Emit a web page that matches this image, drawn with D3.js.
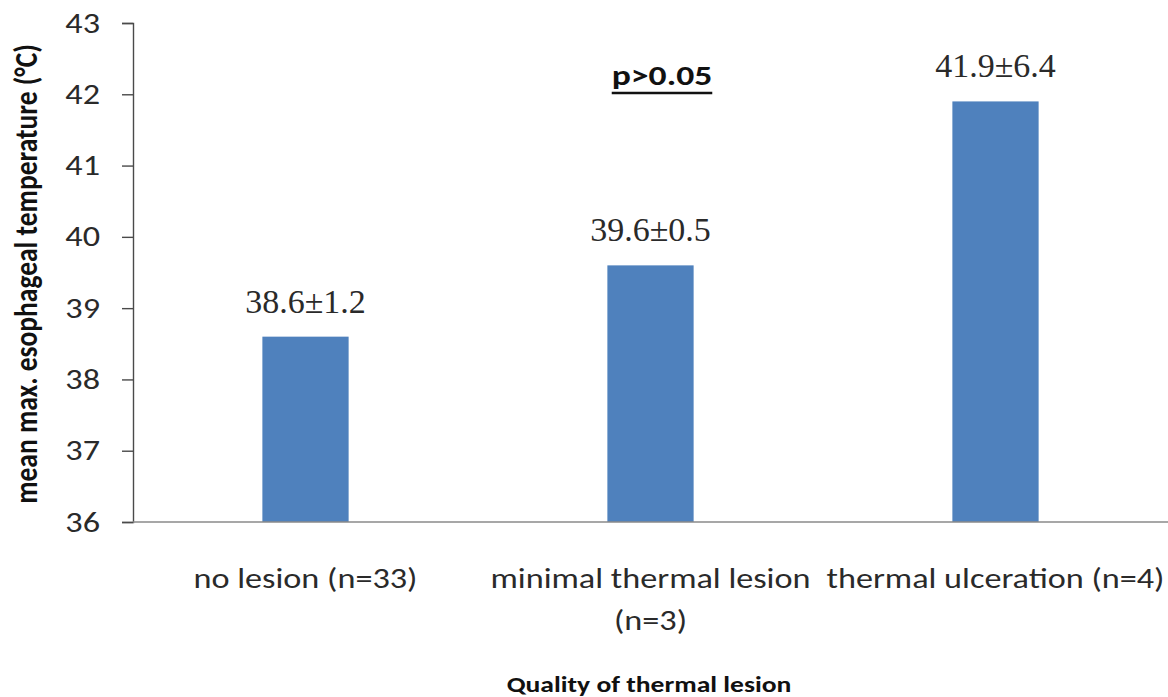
<!DOCTYPE html>
<html>
<head>
<meta charset="utf-8">
<script src="https://cdn.jsdelivr.net/npm/d3@7"></script>
<style>
  html, body { margin: 0; padding: 0; background: #fff; }
  svg { display: block; }
</style>
</head>
<body>
<svg id="chart" width="1168" height="697"></svg>
<script>
// Lesion groups and their mean max. esophageal temperatures
const categories = ["no lesion (n=33)", "minimal thermal lesion (n=3)", "thermal ulceration (n=4)"];
const categoryLines = [["no lesion (n=33)"], ["minimal thermal lesion", "(n=3)"], ["thermal ulceration (n=4)"]];
const means = [38.6, 39.6, 41.9];
const sds = [1.2, 0.5, 6.4];
const yTicks = [36, 37, 38, 39, 40, 41, 42, 43];

const svg = d3.select("#chart");
const plotLeft = 133, plotRight = 1168, plotTop = 23, plotBottom = 522;
const stretch = 1.2; // wide sans lettering

const x = d3.scaleBand().domain(categories).range([plotLeft, plotRight]).paddingInner(0).paddingOuter(0);
const barW = x.bandwidth() * 0.25;
const y = d3.scaleLinear().domain([36, 43]).range([plotBottom, plotTop]);

const uiFont = "Carlito, Calibri, 'Open Sans', sans-serif";
const textColor = "#2a2a2a";

// bars
svg.append("g").selectAll("rect").data(categories).join("rect")
  .attr("x", d => x(d) + (x.bandwidth() - barW) / 2)
  .attr("width", barW)
  .attr("y", (d, i) => y(means[i]))
  .attr("height", (d, i) => y(36) - y(means[i]))
  .attr("fill", "#4F81BD");

// y axis
const yAxis = d3.axisLeft(y).tickValues(yTicks).tickSize(11).tickPadding(16.5).tickFormat(d3.format("d"));
const gy = svg.append("g").attr("transform", `translate(${plotLeft},0)`).call(yAxis);
gy.select(".domain").attr("stroke", "#4a4a4a").attr("stroke-width", 1.4);
gy.selectAll(".tick line").attr("stroke", "#4a4a4a").attr("stroke-width", 1.4);
gy.selectAll(".tick text")
  .attr("font-family", uiFont).attr("font-size", 28.5).attr("fill", textColor)
  .attr("transform", `scale(${stretch},1)`);

// x axis baseline
svg.append("line")
  .attr("x1", plotLeft).attr("x2", plotRight)
  .attr("y1", y(36)).attr("y2", y(36))
  .attr("stroke", "#8a8a8a").attr("stroke-width", 1.5);

// category labels
const catG = svg.append("g");
categories.forEach((c, i) => {
  const cx = x(c) + x.bandwidth() / 2;
  const t = catG.append("text")
    .attr("transform", `translate(${cx},588) scale(${stretch},1)`)
    .attr("text-anchor", "middle")
    .attr("font-family", uiFont)
    .attr("font-size", 28.5)
    .attr("fill", textColor);
  categoryLines[i].forEach((line, j) => {
    t.append("tspan").attr("x", 0).attr("dy", j === 0 ? 0 : 42).text(line);
  });
});

// value labels (mean ± SD)
svg.append("g").selectAll("text").data(categories).join("text")
  .attr("x", d => x(d) + x.bandwidth() / 2)
  .attr("y", (d, i) => y(means[i]) - 24)
  .attr("text-anchor", "middle")
  .attr("font-family", "'Liberation Serif', 'Times New Roman', serif")
  .attr("font-size", 34)
  .attr("fill", textColor)
  .text((d, i) => `${means[i].toFixed(1)}±${sds[i].toFixed(1)}`);

// significance note
const pG = svg.append("g").attr("transform", `translate(662,85) scale(1.25,1)`);
const pText = pG.append("text")
  .attr("text-anchor", "middle")
  .attr("font-family", uiFont)
  .attr("font-size", 28.5)
  .attr("font-weight", "bold")
  .attr("fill", "#111")
  .text("p>0.05");
const bb = pText.node().getBBox();
pG.append("line")
  .attr("x1", bb.x).attr("x2", bb.x + bb.width)
  .attr("y1", 8).attr("y2", 8)
  .attr("stroke", "#111").attr("stroke-width", 2.6);

// axis titles
svg.append("text")
  .attr("transform", `translate(37,274) scale(${stretch},1) rotate(-90)`)
  .attr("text-anchor", "middle")
  .attr("font-family", uiFont)
  .attr("font-size", 27.5)
  .attr("font-weight", "bold")
  .attr("fill", "#111")
  .text("mean max. esophageal temperature (°C)");

svg.append("text")
  .attr("transform", `translate(649,692) scale(${stretch},1)`)
  .attr("text-anchor", "middle")
  .attr("font-family", uiFont)
  .attr("font-size", 23)
  .attr("font-weight", "bold")
  .attr("fill", "#111")
  .text("Quality of thermal lesion");
</script>
</body>
</html>
